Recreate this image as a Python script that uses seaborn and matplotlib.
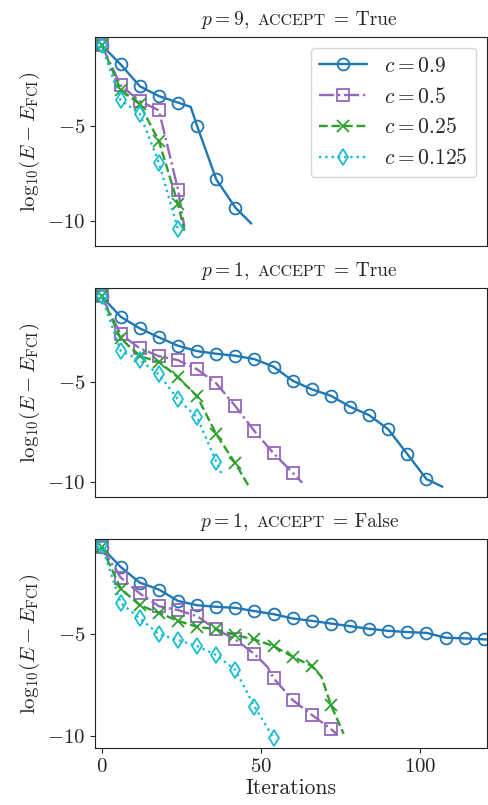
import numpy as np
import matplotlib
matplotlib.use('Agg')
import matplotlib.pyplot as plt
from matplotlib.offsetbox import TextArea, HPacker, AnchoredOffsetbox
import seaborn as sns

# panel titles (p value, accept flag) / legend labels
title_p = ['9', '1', '1']
title_accept = ['True', 'True', 'False']
labels = [r'$c=0.9$', r'$c=0.5$', r'$c=0.25$', r'$c=0.125$']

# p=9, accept=True
it_a_09 = [0, 6, 12, 18, 24, 28, 30, 36, 42, 47]
y_a_09 = [-0.72, -1.74, -2.89, -3.41, -3.75, -3.98, -4.98, -7.79, -9.28, -10.12]
it_a_05 = [0, 6, 12, 18, 24, 26]
y_a_05 = [-0.72, -2.84, -3.67, -4.16, -8.33, -10.3]
it_a_025 = [0, 6, 12, 18, 24, 26]
y_a_025 = [-0.72, -3.07, -3.84, -5.77, -9.1, -10.5]
it_a_0125 = [0, 6, 12, 18, 24]
y_a_0125 = [-0.72, -3.63, -4.33, -6.91, -10.42]

# p=1, accept=True
it_b_09 = [0, 6, 12, 18, 24, 30, 36, 42, 48, 54, 60, 66, 72, 78, 84, 90, 96, 102, 107]
y_b_09 = [-0.72, -1.75, -2.33, -2.78, -3.2, -3.47, -3.6, -3.7, -3.87, -4.25, -4.95,
          -5.38, -5.7, -6.25, -6.67, -7.38, -8.62, -9.87, -10.25]
it_b_05 = [0, 6, 12, 18, 24, 30, 36, 42, 48, 54, 60, 63]
y_b_05 = [-0.72, -2.62, -3.33, -3.72, -3.92, -4.38, -5.08, -6.22, -7.47, -8.58, -9.55, -10.05]
it_b_025 = [0, 6, 12, 18, 24, 30, 36, 42, 46]
y_b_025 = [-0.72, -2.83, -3.72, -4.0, -4.78, -5.73, -7.62, -9.08, -10.17]
it_b_0125 = [0, 6, 12, 18, 24, 30, 36, 38]
y_b_0125 = [-0.72, -3.45, -3.92, -4.63, -5.88, -6.78, -9.0, -9.72]

# p=1, accept=False
it_c_09 = [0, 6, 12, 18, 24, 30, 36, 42, 48, 54, 60, 66, 72, 78, 84, 90, 96, 102,
           108, 114, 120, 122]
y_c_09 = [-0.72, -1.7, -2.47, -2.81, -3.37, -3.58, -3.66, -3.71, -3.87, -4.02, -4.23,
          -4.35, -4.48, -4.61, -4.74, -4.84, -4.9, -4.94, -5.18, -5.21, -5.26, -5.27]
it_c_05 = [0, 6, 12, 18, 24, 30, 36, 42, 48, 52, 54, 60, 66, 72, 74]
y_c_05 = [-0.72, -2.22, -3.0, -3.63, -3.82, -4.12, -4.77, -5.26, -5.98, -6.6, -7.17,
          -8.24, -8.97, -9.66, -9.95]
it_c_025 = [0, 6, 12, 18, 24, 30, 36, 42, 48, 54, 60, 66, 69, 72, 76]
y_c_025 = [-0.72, -2.76, -3.58, -3.96, -4.35, -4.64, -4.77, -5.05, -5.26, -5.59, -6.11,
           -6.57, -7.09, -8.48, -9.9]
it_c_0125 = [0, 6, 12, 18, 24, 30, 36, 42, 48, 54]
y_c_0125 = [-0.62, -3.47, -4.23, -5.0, -5.29, -5.59, -6.03, -6.76, -8.56, -10.11]

panels = [
    [(it_a_09, y_a_09), (it_a_05, y_a_05), (it_a_025, y_a_025), (it_a_0125, y_a_0125)],
    [(it_b_09, y_b_09), (it_b_05, y_b_05), (it_b_025, y_b_025), (it_b_0125, y_b_0125)],
    [(it_c_09, y_c_09), (it_c_05, y_c_05), (it_c_025, y_c_025), (it_c_0125, y_c_0125)],
]
ylims = [(-11.28, -0.30), (-10.75, -0.32), (-10.59, -0.34)]

colors = ['#1f77b4', '#9467bd', '#2ca02c', '#17becf']
markers = ['o', 's', 'x', 'd']
styles = ['-', '-.', '--', ':']

sns.set_style('ticks')
plt.rcParams['font.family'] = 'serif'
plt.rcParams['font.serif'] = ['cmr10', 'DejaVu Serif']
plt.rcParams['mathtext.fontset'] = 'cm'
plt.rcParams['axes.formatter.use_mathtext'] = True
plt.rcParams['axes.edgecolor'] = '#222222'

fig, axes = plt.subplots(3, 1, figsize=(4.88, 8.05), dpi=100, sharex=True)
fig.subplots_adjust(left=0.195, right=0.998, top=0.954, bottom=0.071, hspace=0.204)


def smallcaps_title(ax, p, acc):
    # title with a small-caps "ACCEPT", packed on a common baseline
    parts = [
        TextArea(rf'$p={p},$', textprops=dict(fontsize=14)),
        TextArea('ACCEPT', textprops=dict(fontsize=11.5)),
        TextArea('= ' + acc, textprops=dict(fontsize=14)),
    ]
    box = HPacker(children=parts, align='baseline', pad=0, sep=6)
    anc = AnchoredOffsetbox(loc='lower center', child=box, frameon=False,
                            bbox_to_anchor=(0.52, 1.0), bbox_transform=ax.transAxes,
                            borderpad=0.05)
    ax.add_artist(anc)


for i, ax in enumerate(axes):
    for j, (its, ys) in enumerate(panels[i]):
        its = np.array(its)
        mk = [k for k, v in enumerate(its) if v % 6 == 0]
        sns.lineplot(x=its, y=ys, ax=ax, color=colors[j], linestyle=styles[j],
                     marker=markers[j], markevery=mk, markersize=8.5,
                     markerfacecolor='none', markeredgecolor=colors[j],
                     markeredgewidth=1.3, linewidth=1.7, label=labels[j],
                     legend=(i == 0))
    smallcaps_title(ax, title_p[i], title_accept[i])
    ax.set_ylabel(r'$\mathrm{log}_{10}(E-E_{\mathrm{FCI}})$', fontsize=15)
    ax.set_yticks([-10, -5])
    ax.set_ylim(*ylims[i])
    ax.set_xlim(-2, 121)
    ax.tick_params(labelsize=15)
    if i < 2:
        ax.tick_params(axis='x', bottom=False)

axes[0].legend(loc='upper right', fontsize=15.5, handlelength=2.2)
axes[2].set_xticks([0, 50, 100])
axes[2].set_xlabel('Iterations', fontsize=15.5, labelpad=2)

plt.savefig('out.png', dpi=100)
